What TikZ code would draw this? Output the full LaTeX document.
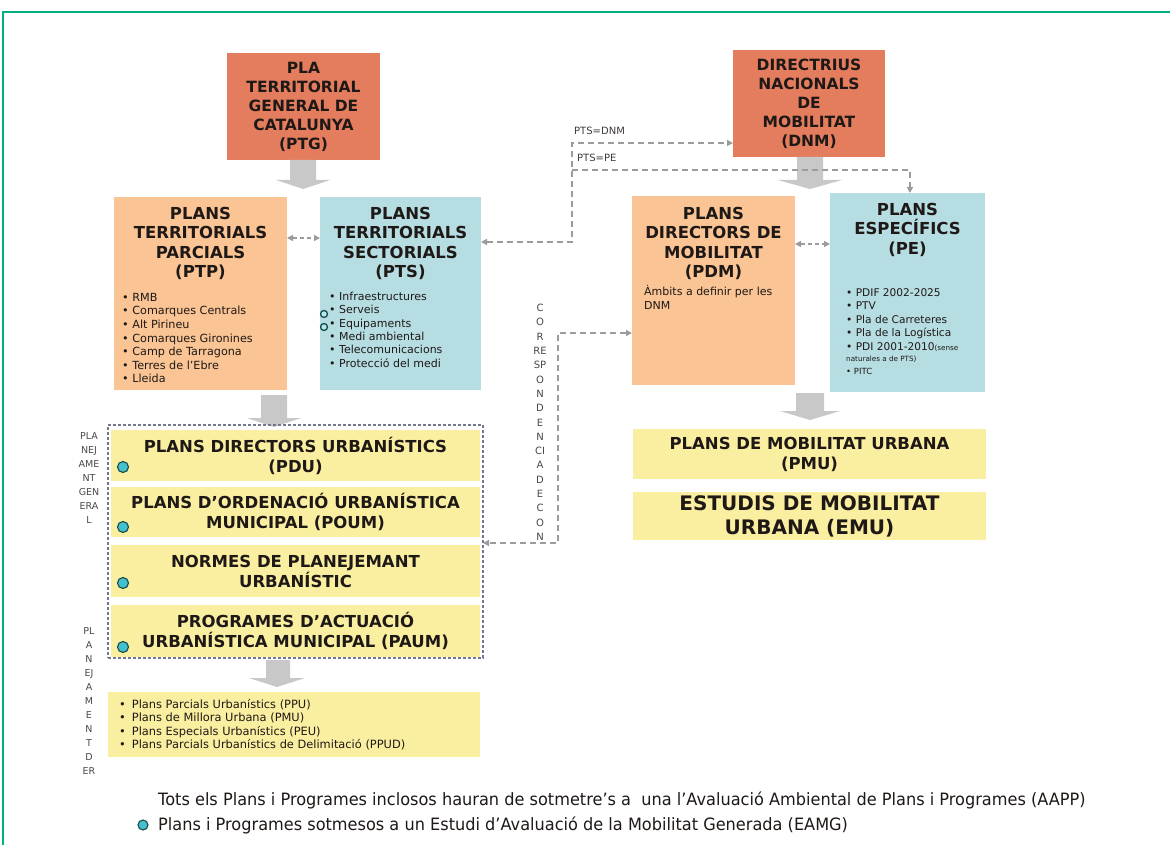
\documentclass[tikz,border=0pt]{standalone}
\usepackage{fontspec}
\setmainfont{DejaVu Sans}
\newfontfamily\footfont[FakeStretch=0.95]{DejaVu Sans}
\usetikzlibrary{arrows.meta}
\definecolor{coral}{RGB}{228,124,94}
\definecolor{peach}{RGB}{250,196,148}
\definecolor{lblue}{RGB}{182,221,226}
\definecolor{lyellow}{RGB}{250,238,160}
\definecolor{blkgray}{RGB}{200,200,200}
\definecolor{dgray}{RGB}{155,155,155}
\definecolor{grpc}{RGB}{115,120,145}
\definecolor{tealf}{RGB}{70,192,205}
\definecolor{teald}{RGB}{20,75,75}
\definecolor{framegreen}{RGB}{0,175,130}
\definecolor{ink}{RGB}{30,25,22}
\begin{document}
\begin{tikzpicture}[x=1pt,y=-1pt,
  box/.style={inner sep=0pt,outer sep=0pt,anchor=north west},
  ttl/.style={font=\fontsize{16.5}{19.5}\selectfont\bfseries,align=center,text=ink,inner sep=0pt,anchor=north},
  lst/.style={font=\fontsize{11.2}{13.6}\selectfont,align=left,text=ink,inner sep=0pt,anchor=north west},
  dsh/.style={draw=dgray,line width=1.4pt,dash pattern=on 6pt off 4pt},
  arr/.style={-{Triangle[length=6pt,width=6pt]}},
  dblarr/.style={{Triangle[length=6pt,width=6pt]}-{Triangle[length=6pt,width=6pt]}},
  dot/.style={circle,fill=tealf,draw=teald,line width=1.1pt,minimum size=11pt,inner sep=0pt},
  odot/.style={circle,fill=tealf!40,draw=teald,line width=1.3pt,minimum size=7pt,inner sep=0pt},
  blk/.style={fill=blkgray},
  side/.style={font=\fontsize{9.5}{14}\selectfont,align=center,text=ink!80,inner sep=0pt,anchor=north},
  row/.style={font=\fontsize{16.5}{20}\selectfont\bfseries,align=center,text=ink,inner sep=0pt}
]
\useasboundingbox (0,0) rectangle (1170,845);
\fill[white] (0,0) rectangle (1170,845);
% frame
\draw[framegreen,line width=2.5pt] (3,845) -- (3,12) -- (1170,12);

% top boxes
\node[box,fill=coral,minimum width=153pt,minimum height=107pt] (ptg) at (227,53) {};
\node[ttl,font=\fontsize{15.5}{19}\selectfont\bfseries,anchor=center] (ptgt) at (ptg.center) {PLA\\TERRITORIAL\\GENERAL DE\\CATALUNYA\\(PTG)};
\node[box,fill=coral,minimum width=152pt,minimum height=107pt] (dnm) at (733,50) {};
\node[ttl,font=\fontsize{15.5}{19}\selectfont\bfseries,anchor=center] (dnmt) at (dnm.center) {DIRECTRIUS\\NACIONALS\\DE\\MOBILITAT\\(DNM)};

% block arrows
\fill[blk] (290,160) -- (316,160) -- (316,180) -- (330,180) -- (303,189) -- (276,180) -- (290,180) -- cycle;
\fill[blk] (797,157) -- (823,157) -- (823,180) -- (842,180) -- (810,189) -- (778,180) -- (797,180) -- cycle;

% second row boxes
\node[box,fill=peach,minimum width=173pt,minimum height=193pt] (ptp) at (114,197) {};
\node[ttl] (ptpt) at (200.5,207) {PLANS\\TERRITORIALS\\PARCIALS\\(PTP)};
\node[lst] (ptpl) at (122,293) {\textbullet\ RMB\\ \textbullet\ Comarques Centrals\\ \textbullet\ Alt Pirineu\\ \textbullet\ Comarques Gironines\\ \textbullet\ Camp de Tarragona\\ \textbullet\ Terres de l’Ebre\\ \textbullet\ Lleida};

\node[box,fill=lblue,minimum width=161pt,minimum height=193pt] (pts) at (320,197) {};
\node[ttl] (ptst) at (400.5,207) {PLANS\\TERRITORIALS\\SECTORIALS\\(PTS)};
\node[lst,font=\fontsize{11}{13.3}\selectfont] (ptsl) at (329,292) {\textbullet\ Infraestructures\\ \textbullet\ Serveis\\ \textbullet\ Equipaments\\ \textbullet\ Medi ambiental\\ \textbullet\ Telecomunicacions\\ \textbullet\ Protecció del medi};
\node[odot] (o1) at (324,314) {};
\node[odot] (o2) at (324,327) {};

\node[box,fill=peach,minimum width=163pt,minimum height=189pt] (pdm) at (632,196) {};
\node[ttl] (pdmt) at (713.5,207) {PLANS\\DIRECTORS DE\\MOBILITAT\\(PDM)};
\node[lst,font=\fontsize{11}{14}\selectfont] (pdml) at (644,285) {Àmbits a definir per les\\DNM};

\node[box,fill=lblue,minimum width=155pt,minimum height=199pt] (pe) at (830,193) {};
\node[ttl] (pet) at (907.5,203) {PLANS\\ESPECÍFICS\\(PE)};
\node[lst,font=\fontsize{10.6}{13.5}\selectfont] (pel) at (846,288) {\textbullet\ PDIF 2002-2025\\ \textbullet\ PTV\\ \textbullet\ Pla de Carreteres\\ \textbullet\ Pla de la Logística\\ \textbullet\ PDI 2001-2010{\fontsize{7.2}{8}\selectfont(sense}\\[-2.5pt] {\fontsize{7.2}{8}\selectfont naturales a de PTS)}\\[-0.5pt] {\fontsize{8.5}{9}\selectfont\textbullet\ PITC}};

% block arrows lower
\fill[blk] (261,395) -- (287,395) -- (287,418) -- (301,418) -- (274,427) -- (247,418) -- (261,418) -- cycle;
\fill[blk] (796,393) -- (824,393) -- (824,411) -- (840,411) -- (810,420) -- (780,411) -- (796,411) -- cycle;
\fill[blk] (266,660) -- (290,660) -- (290,678) -- (305,678) -- (277,687) -- (249,678) -- (266,678) -- cycle;

% mobility boxes
\node[box,fill=lyellow,minimum width=353pt,minimum height=50pt] (pmu) at (633,429) {};
\node[row,anchor=center] (pmut) at (pmu.center) {PLANS DE MOBILITAT URBANA\\(PMU)};
\node[box,fill=lyellow,minimum width=353pt,minimum height=48pt] (emu) at (633,492) {};
\node[row,font=\fontsize{20}{24}\selectfont\bfseries,anchor=center] (emut) at (emu.center) {ESTUDIS DE MOBILITAT\\URBANA (EMU)};

% urban planning group
\node[box,fill=lyellow,minimum width=369pt,minimum height=51pt] (pdu) at (111,430) {};
\node[row,anchor=center] (pdut) at (pdu.center) {PLANS DIRECTORS URBANÍSTICS\\(PDU)};
\node[box,fill=lyellow,minimum width=369pt,minimum height=50pt] (poum) at (111,487) {};
\node[row,anchor=center] (poumt) at (poum.center) {PLANS D’ORDENACIÓ URBANÍSTICA\\MUNICIPAL (POUM)};
\node[box,fill=lyellow,minimum width=369pt,minimum height=52pt] (npu) at (111,545) {};
\node[row,anchor=center] (nput) at (npu.center) {NORMES DE PLANEJEMANT\\URBANÍSTIC};
\node[box,fill=lyellow,minimum width=369pt,minimum height=52pt] (paum) at (111,605) {};
\node[row,anchor=center] (paumt) at (paum.center) {PROGRAMES D’ACTUACIÓ\\URBANÍSTICA MUNICIPAL (PAUM)};
\node[box,draw=grpc,dash pattern=on 3pt off 2pt,line width=1.2pt,minimum width=375pt,minimum height=233pt] (grp) at (108,425) {};
\node[dot] (d1) at (123,467) {};
\node[dot] (d2) at (123,527) {};
\node[dot] (d3) at (123,583) {};
\node[dot] (d4) at (123,647) {};

% derived planning
\node[box,fill=lyellow,minimum width=372pt,minimum height=65pt] (der) at (108,692) {};
\node[lst,font=\fontsize{11.4}{13.4}\selectfont] (derl) at (119,699) {\textbullet\hspace{6pt}Plans Parcials Urbanístics (PPU)\\ \textbullet\hspace{6pt}Plans de Millora Urbana (PMU)\\ \textbullet\hspace{6pt}Plans Especials Urbanístics (PEU)\\ \textbullet\hspace{6pt}Plans Parcials Urbanístics de Delimitació (PPUD)};

% side labels
\node[side] (lab1) at (89,432) {PLA\\NEJ\\AME\\NT\\GEN\\ERA\\L};
\begin{scope}
\clip (60,620) rectangle (120,777);
\node[side] (lab2) at (89,627) {PL\\A\\N\\EJ\\A\\M\\E\\N\\T\\D\\ER};
\end{scope}
\node[side,font=\fontsize{10}{14.3}\selectfont] (corr) at (540,304) {C\\O\\R\\RE\\SP\\O\\N\\D\\E\\N\\CI\\A\\D\\E\\C\\O\\N};

% dashed connectors
\coordinate (h1) at (300,238);
\draw[dsh,dblarr,dash pattern=on 4pt off 3pt] (h1 -| ptp.east) -- (h1 -| pts.west);
\coordinate (h2) at (810,244);
\draw[dsh,dblarr,dash pattern=on 4pt off 3pt] (h2 -| pdm.east) -- (h2 -| pe.west);
\coordinate (c1) at (572,242);
\coordinate (c2) at (572,143);
\coordinate (c3) at (572,170);
\coordinate (c4) at (910,170);
\draw[dsh,dblarr] (c1 -| pts.east) -- (c1) -- (c2) -- (c2 -| dnm.west);
\draw[dsh,arr] (c3) -- (c4) -- (c4 |- pe.north);
\node[anchor=west,inner sep=0pt,font=\fontsize{10}{12}\selectfont,text=ink!85] (lbl1) at (574,131) {PTS=DNM};
\node[anchor=west,inner sep=0pt,font=\fontsize{10}{12}\selectfont,text=ink!85] (lbl2) at (577,158) {PTS=PE};
\coordinate (k1) at (558,333);
\coordinate (k2) at (558,543);
\draw[dsh,dblarr] (k1 -| pdm.west) -- (k1) -- (k2) -- (k2 -| grp.east);

% footer
\node[anchor=west,inner sep=0pt,font=\footfont\fontsize{17}{20}\selectfont,text=ink] (foot1) at (158,800) {Tots els Plans i Programes inclosos hauran de sotmetre’s a\ \ una l’Avaluació Ambiental de Plans i Programes (AAPP)};
\node[dot,minimum size=10pt] (fdot) at (143,825) {};
\node[anchor=west,inner sep=0pt,font=\footfont\fontsize{17}{20}\selectfont,text=ink] (foot2) at (158,825) {Plans i Programes sotmesos a un Estudi d’Avaluació de la Mobilitat Generada (EAMG)};
\end{tikzpicture}
\end{document}
